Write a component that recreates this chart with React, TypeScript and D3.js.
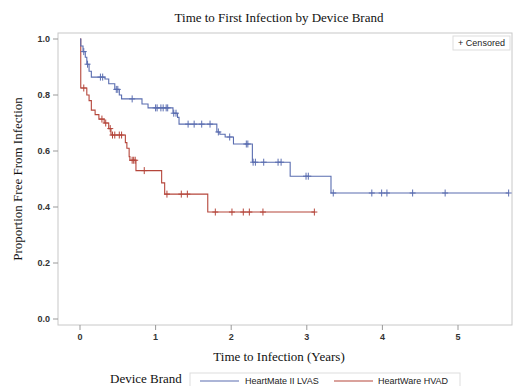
import React, { useEffect, useRef } from 'react';
import * as d3 from 'd3';

// HeartMate II LVAS
const hmEventTimes = [0.01, 0.04, 0.07, 0.09, 0.12, 0.15, 0.33, 0.38, 0.46, 0.52, 0.55, 0.82, 0.9, 1.23, 1.29, 1.31, 1.81, 1.85, 1.92, 2.03, 2.28, 2.78, 3.32];
const hmSurvival = [0.975, 0.955, 0.935, 0.91, 0.885, 0.864, 0.857, 0.84, 0.82, 0.8, 0.786, 0.768, 0.754, 0.735, 0.72, 0.696, 0.668, 0.66, 0.65, 0.625, 0.56, 0.51, 0.45];
const hmCensored = [0.05, 0.1, 0.27, 0.3, 0.48, 0.5, 0.69, 1.0, 1.02, 1.07, 1.1, 1.14, 1.16, 1.24, 1.27, 1.43, 1.51, 1.61, 1.72, 1.83, 1.98, 2.2, 2.22, 2.29, 2.32, 2.43, 2.62, 2.66, 2.99, 3.02, 3.35, 3.86, 3.99, 4.06, 4.4, 4.83, 5.67];

// HeartWare HVAD
const hwEventTimes = [0.01, 0.09, 0.12, 0.15, 0.2, 0.25, 0.32, 0.38, 0.41, 0.6, 0.62, 0.65, 0.66, 0.74, 1.08, 1.12, 1.69];
const hwSurvival = [0.825, 0.8, 0.78, 0.746, 0.73, 0.714, 0.7, 0.68, 0.657, 0.63, 0.61, 0.58, 0.567, 0.53, 0.486, 0.446, 0.382];
const hwCensored = [0.05, 0.29, 0.34, 0.4, 0.43, 0.46, 0.52, 0.55, 0.69, 0.71, 0.73, 0.85, 1.15, 1.34, 1.42, 1.79, 2.01, 2.16, 2.24, 2.42, 3.1];

const xTicks = [0, 1, 2, 3, 4, 5];
const yTicks = [0, 0.2, 0.4, 0.6, 0.8, 1.0];
const seriesNames = ['HeartMate II LVAS', 'HeartWare HVAD'];
const seriesColors = ['#5a6db0', '#b5463b'];

const W = 513;
const H = 386;

const App: React.FC = () => {
  const svgRef = useRef<SVGSVGElement>(null);

  useEffect(() => {
    if (!svgRef.current) return;
    const svg = d3.select(svgRef.current);
    svg.selectAll('*').remove();

    const frame = { left: 58, right: 512, top: 33, bottom: 325 };

    const x = d3.scaleLinear().domain([0, 5]).range([80, 458]);
    const y = d3.scaleLinear().domain([0, 1]).range([319, 39]);

    // Title
    svg
      .append('text')
      .attr('x', 279)
      .attr('y', 22)
      .attr('text-anchor', 'middle')
      .attr('font-family', '"Liberation Serif", "Times New Roman", serif')
      .attr('font-size', 13)
      .attr('fill', '#111')
      .text('Time to First Infection by Device Brand');

    // Plot frame
    svg
      .append('rect')
      .attr('x', frame.left)
      .attr('y', frame.top)
      .attr('width', frame.right - frame.left)
      .attr('height', frame.bottom - frame.top)
      .attr('fill', 'white')
      .attr('stroke', '#c8c8c8')
      .attr('stroke-width', 1);

    const tickFont = '"Liberation Sans", Arial, sans-serif';

    // Y axis
    const yAxis = svg.append('g');
    yTicks.forEach(t => {
      yAxis
        .append('line')
        .attr('x1', frame.left - 5)
        .attr('x2', frame.left)
        .attr('y1', y(t))
        .attr('y2', y(t))
        .attr('stroke', '#999');
      yAxis
        .append('text')
        .attr('x', frame.left - 8)
        .attr('y', y(t))
        .attr('dy', '0.35em')
        .attr('text-anchor', 'end')
        .attr('font-family', tickFont)
        .attr('font-size', 9)
        .attr('font-weight', 'bold')
        .attr('fill', '#333')
        .text(d3.format('.1f')(t));
    });

    // X axis
    const xAxis = svg.append('g');
    xTicks.forEach(t => {
      xAxis
        .append('line')
        .attr('x1', x(t))
        .attr('x2', x(t))
        .attr('y1', frame.bottom)
        .attr('y2', frame.bottom + 5)
        .attr('stroke', '#999');
      xAxis
        .append('text')
        .attr('x', x(t))
        .attr('y', frame.bottom + 15)
        .attr('text-anchor', 'middle')
        .attr('font-family', tickFont)
        .attr('font-size', 9)
        .attr('font-weight', 'bold')
        .attr('fill', '#333')
        .text(t);
    });

    // Axis labels
    svg
      .append('text')
      .attr('x', 279)
      .attr('y', 361)
      .attr('text-anchor', 'middle')
      .attr('font-family', '"Liberation Serif", "Times New Roman", serif')
      .attr('font-size', 13)
      .attr('fill', '#111')
      .text('Time to Infection (Years)');

    svg
      .append('text')
      .attr('transform', `translate(22,${(frame.top + frame.bottom) / 2}) rotate(-90)`)
      .attr('text-anchor', 'middle')
      .attr('font-family', '"Liberation Serif", "Times New Roman", serif')
      .attr('font-size', 13)
      .attr('fill', '#111')
      .text('Proportion Free From Infection');

    // Curves
    const series = [
      { times: hmEventTimes, surv: hmSurvival, cens: hmCensored },
      { times: hwEventTimes, surv: hwSurvival, cens: hwCensored },
    ];

    const line = d3
      .line<[number, number]>()
      .x(d => x(d[0]))
      .y(d => y(d[1]))
      .curve(d3.curveStepAfter);

    // draw red first so blue sits on top like the reference
    [1, 0].forEach(i => {
      const s = series[i];
      const color = seriesColors[i];
      const lastT = Math.max(d3.max(s.cens) as number, d3.max(s.times) as number);
      const pts: [number, number][] = [[0, 1]];
      s.times.forEach((t, j) => pts.push([t, s.surv[j]]));
      pts.push([lastT, s.surv[s.surv.length - 1]]);

      svg
        .append('path')
        .datum(pts)
        .attr('d', line)
        .attr('fill', 'none')
        .attr('stroke', color)
        .attr('stroke-width', 1.1);

      const survAt = (t: number) => {
        let v = 1;
        s.times.forEach((et, j) => {
          if (et <= t) v = s.surv[j];
        });
        return v;
      };

      svg
        .append('g')
        .selectAll('path')
        .data(s.cens)
        .enter()
        .append('path')
        .attr('d', d => {
          const cx = x(d);
          const cy = y(survAt(d));
          return `M${cx - 3},${cy}H${cx + 3}M${cx},${cy - 3.5}V${cy + 3.5}`;
        })
        .attr('stroke', color)
        .attr('stroke-width', 1);
    });

    // Censored inset legend
    const cg = svg.append('g');
    cg.append('rect')
      .attr('x', 453)
      .attr('y', 36)
      .attr('width', 57)
      .attr('height', 14)
      .attr('fill', 'white')
      .attr('stroke', '#ddd');
    cg.append('text')
      .attr('x', 481.5)
      .attr('y', 46)
      .attr('text-anchor', 'middle')
      .attr('font-family', tickFont)
      .attr('font-size', 9)
      .attr('fill', '#222')
      .text('+ Censored');

    // Bottom legend
    svg
      .append('text')
      .attr('x', 110)
      .attr('y', 383)
      .attr('font-family', '"Liberation Serif", "Times New Roman", serif')
      .attr('font-size', 13)
      .attr('fill', '#111')
      .text('Device Brand');

    svg
      .append('rect')
      .attr('x', 190)
      .attr('y', 373)
      .attr('width', 270)
      .attr('height', 20)
      .attr('fill', 'white')
      .attr('stroke', '#ddd');

    const legendItems = [
      { lx: 200, tx: 245 },
      { lx: 334, tx: 378 },
    ];
    legendItems.forEach((it, i) => {
      svg
        .append('line')
        .attr('x1', it.lx)
        .attr('x2', it.lx + 39)
        .attr('y1', 381)
        .attr('y2', 381)
        .attr('stroke', seriesColors[i])
        .attr('stroke-width', 1.1);
      svg
        .append('text')
        .attr('x', it.tx)
        .attr('y', 384)
        .attr('font-family', tickFont)
        .attr('font-size', 9)
        .attr('fill', '#222')
        .text(seriesNames[i]);
    });
  }, []);

  return (
    <div style={{ position: 'absolute', left: 0, top: 0, width: W, height: H, background: 'white' }}>
      <svg ref={svgRef} width={W} height={H}></svg>
    </div>
  );
};

export default App;
